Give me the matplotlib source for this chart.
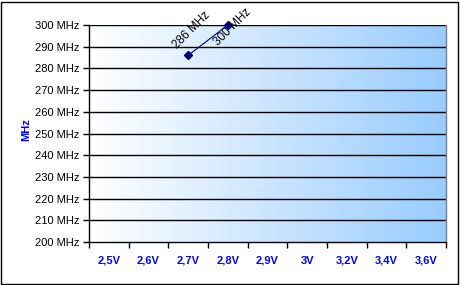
import numpy as np
import matplotlib
matplotlib.use("Agg")
import matplotlib.pyplot as plt
from matplotlib.patches import Rectangle
from matplotlib.colors import LinearSegmentedColormap

categories = ["2,5V", "2,6V", "2,7V", "2,8V", "2,9V", "3V", "3,2V", "3,4V", "3,6V"]
values = [np.nan, np.nan, 286, 300, np.nan, np.nan, np.nan, np.nan, np.nan]
point_labels = ["", "", "286 MHz", "300 MHz", "", "", "", "", ""]
y_ticks = list(range(200, 301, 10))
y_tick_labels = [f"{v} MHz" for v in y_ticks]

plt.rcParams['font.family'] = ['Liberation Sans', 'DejaVu Sans']

W, H = 461, 285
fig = plt.figure(figsize=(W / 100, H / 100), dpi=100)
ax = fig.add_axes([89 / W, 1 - 242 / H, (446 - 89) / W, (242 - 25) / H])

n = len(categories)
x = np.arange(n)
ax.set_xlim(-0.5, n - 0.5)
ax.set_ylim(200, 300)

# gradient background
cmap = LinearSegmentedColormap.from_list("bg", ["#FFFFFF", "#99CCFF"])
grad = np.linspace(0, 1, 256).reshape(1, -1)
ax.imshow(grad, cmap=cmap, aspect="auto", extent=(-0.5, n - 0.5, 200, 300),
          zorder=0, interpolation="bicubic")

# gridlines
for v in y_ticks[1:]:
    ax.axhline(v, color="black", lw=1, zorder=1)

ax.plot(x, values, color="#000080", lw=0.8, marker="D", markersize=4,
        zorder=3, clip_on=False)

# data labels
offsets = {2: (0.08, 297.6), 3: (0.12, 299.0)}
for i, lab in enumerate(point_labels):
    if lab:
        dx, yy = offsets[i]
        ax.text(x[i] + dx, yy, lab, rotation=45, ha="center", va="center",
                fontsize=8.5, color="black", zorder=4, clip_on=False,
                rotation_mode="anchor")

ax.set_yticks(y_ticks)
ax.set_yticklabels(y_tick_labels, fontsize=8)
ax.tick_params(axis="y", direction="out", length=4, width=1, color="black", pad=3)

ax.set_xticks(x)
ax.set_xticklabels(categories, fontsize=8, fontweight="bold", color="#0000FF")
ax.tick_params(axis="x", which="major", length=0, pad=10)
ax.set_xticks(np.arange(-0.5, n, 1), minor=True)
ax.tick_params(axis="x", which="minor", direction="out", length=4, width=1, color="black")

for s in ["left", "bottom"]:
    ax.spines[s].set_color("black")
    ax.spines[s].set_linewidth(1)
ax.spines["top"].set_visible(False)
ax.spines["right"].set_color("#808080")
ax.spines["right"].set_linewidth(1)

fig.text(26 / W, 1 - 130 / H, "MHz", rotation=90, ha="center", va="center",
         fontsize=8, fontweight="bold", color="#0000FF")

# figure border
fig.patches.append(Rectangle((0.5 / W, 1.5 / H), 457 / W, 282 / H,
                             transform=fig.transFigure, fill=False,
                             edgecolor="black", lw=1))

fig.savefig("out.png", dpi=100)
